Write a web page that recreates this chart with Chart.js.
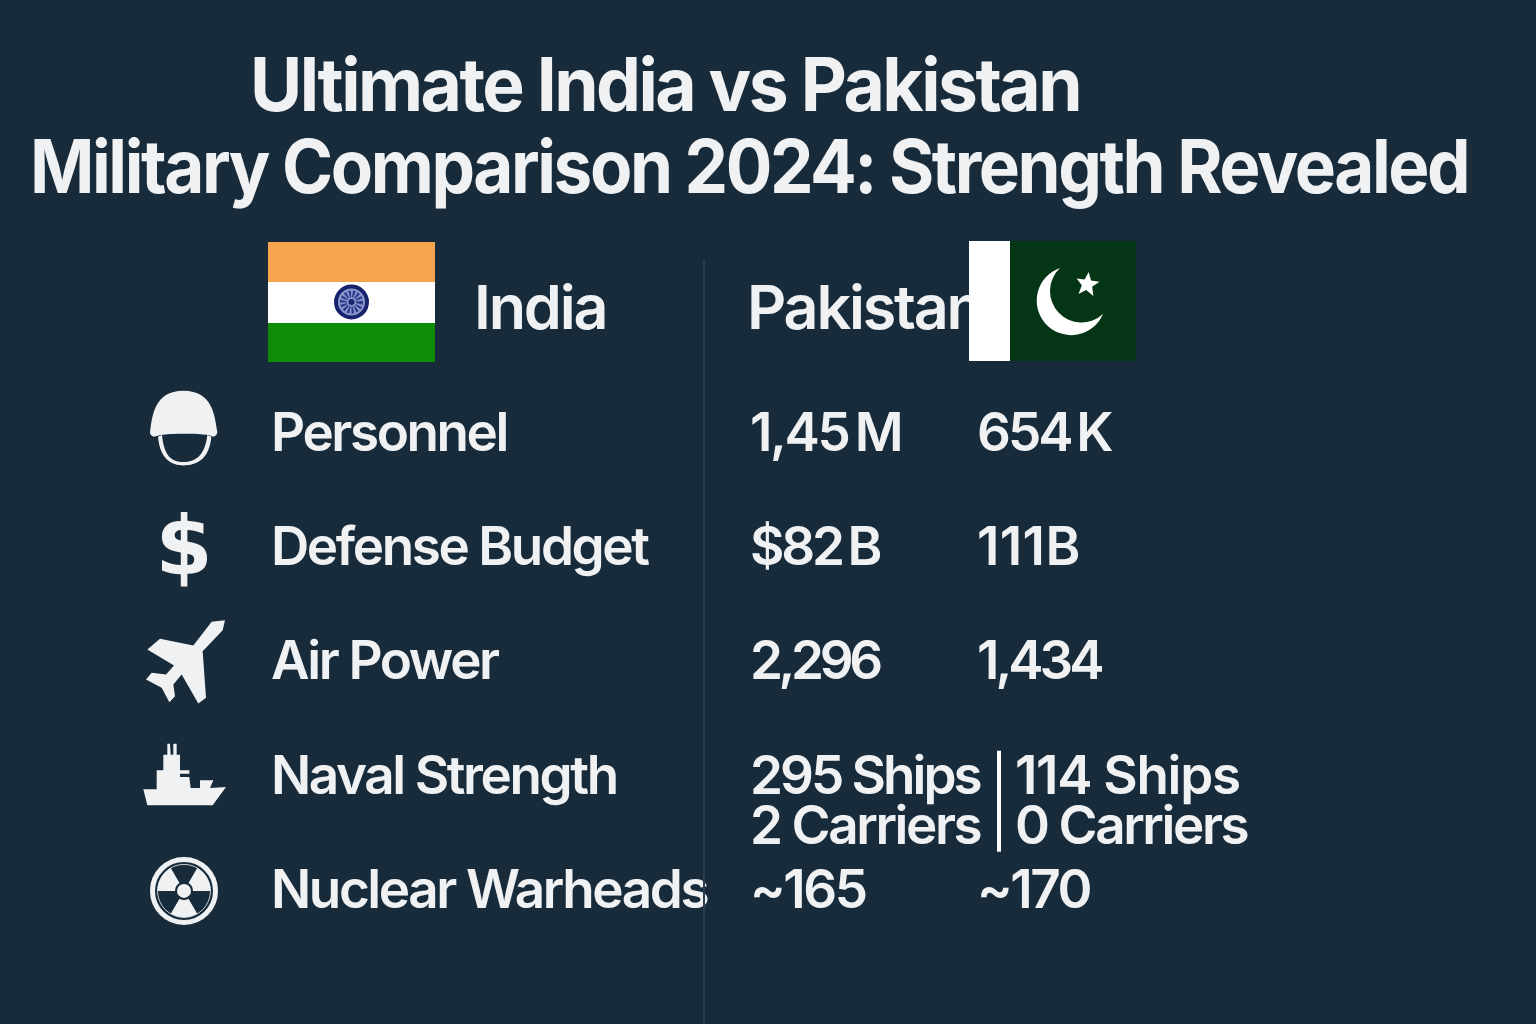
<!DOCTYPE html>
<html>
<head>
<meta charset="utf-8">
<title>Ultimate India vs Pakistan Military Comparison 2024</title>
<script src="https://cdn.jsdelivr.net/npm/chart.js@4/dist/chart.umd.min.js"></script>
<style>
  html, body { margin: 0; background: #182b3a; }
  #page { position: relative; width: 1536px; height: 1024px; overflow: hidden; background: #182b3a;
          font-family: Inter, sans-serif; color: #f0f1f3; }
  #chartBox { position: absolute; inset: 0; }
  .t { position: absolute; white-space: nowrap; line-height: 1; transform-origin: left center; }
  .title { font-size: 74px; font-weight: 700; letter-spacing: -2.6px; }
  .head { font-size: 61px; font-weight: 600; letter-spacing: -2.2px; }
  #divider { position: absolute; left: 703px; top: 260px; width: 2px; height: 764px; background: #2c3e4d; }
  svg.flag { position: absolute; }
</style>
</head>
<body>
<div id="page">
  <div id="chartBox"><canvas id="cmp"></canvas></div>
  <div id="divider"></div>
  <div class="t title" style="left:250px;top:47px;transform:scaleX(.9635)">Ultimate India vs Pakistan</div>
  <div class="t title" style="left:30px;top:129px;transform:scaleX(.935)">Military Comparison 2024: Strength Revealed</div>
  <div class="t head" style="left:474px;top:277px">India</div>
  <div class="t head" style="left:747px;top:277px">Pakistan</div>

  <svg class="flag" style="left:268px;top:242px" width="167" height="120" viewBox="0 0 167 120">
    <rect width="167" height="40" fill="#f4a54d"/>
    <rect y="40" width="167" height="41" fill="#ffffff"/>
    <rect y="81" width="167" height="39" fill="#0f8c06"/>
    <circle cx="83.5" cy="60" r="15.5" fill="#8d97c9" stroke="#17236f" stroke-width="4"/>
    <circle cx="83.5" cy="60" r="8" fill="none" stroke="#2c3b8f" stroke-width="7" stroke-dasharray="2 1.5"/>
    <circle cx="83.5" cy="60" r="3" fill="#17236f"/>
  </svg>
  <svg class="flag" style="left:969px;top:241px" width="167" height="120" viewBox="969 241 167 120">
    <rect x="969" y="241" width="41" height="120" fill="#ffffff"/>
    <rect x="1010" y="241" width="126" height="120" fill="#043515"/>
    <path d="M1060 268 A34.5 34.5 0 1 0 1103 314 A31 31 0 0 1 1060 268Z" fill="#ffffff"/>
    <path d="M1087 272 L1090.5 280 L1099 280 L1092.5 286 L1095 295 L1087 290 L1080 295 L1082 286 L1076 280 L1084 280Z" fill="#ffffff" transform="rotate(8 1087 284)"/>
  </svg>
</div>

<script>
const metrics = ['Personnel', 'Defense Budget', 'Air Power', 'Naval Strength', 'Nuclear Warheads'];
const columns = ['India', 'Pakistan'];
const indiaValues = [['1,45\u2009M'], ['$82\u2009B'], ['2,296'], ['295 Ships', '2 Carriers'], ['~165']];
const pakistanValues = [['654\u2009K'], ['111B'], ['1,434'], ['114 Ships', '0 Carriers'], ['~170']];

const TEXT = '#f0f1f3';
const FONT = '600 53px Inter';
const TRACK = '-2.4px';
// the reference digits run narrower or wider than Inter in places
const CELL_TRACK = { '2,296': '-4.4px', '1,434': '-4px', '111B': '0.4px', '114 Ships': '-1.3px',
                     '$82\u2009B': '-3.2px', '654\u2009K': '-3px', '295 Ships': '-3px' };
const LINE_GAP = 50, SPLIT_SHIFT = 38;
const ICON_X = 184, ICON_LIFT = 3;

// icon outlines, traced at 3x around (ox, oy) = icon column x and row y
const icons = [
  { ox: 162, oy: 156, paths: [
    'M60 158 C66 110 72 32 160 32 C250 32 254 110 262 155 Q262 166 250 170 L236 165 C200 160 125 160 92 165 L72 170 Q60 166 60 158Z',
    'M84 170 C90 238 125 256 160 256 C200 256 238 238 244 170 L232 165 C225 228 195 246 160 246 C125 246 102 228 96 165Z' ] },
  { glyph: '$' },
  { ox: 162, oy: 843, paths: [
    'M285 722 L278 752 L218 815 L228 955 L205 972 L155 885 L130 915 L135 950 L118 968 L95 925 L48 900 L65 880 L108 885 L132 858 L52 810 L90 778 L190 798 L245 727Z' ] },
  { ox: 162, oy: 138, paths: [
    'M40 182 L80 182 L80 125 L100 125 L100 78 L112 78 L112 45 L120 45 L122 78 L130 78 L130 45 L140 45 L140 78 L150 78 L150 125 L178 125 L178 135 L150 135 L150 145 L178 145 L182 178 L210 178 L210 155 L250 155 L240 178 L288 175 L248 230 L52 230Z' ] },
  { radiation: true }
];

function drawIcon(ctx, icon, x, y) {
  ctx.save();
  ctx.letterSpacing = '0px';
  ctx.fillStyle = ctx.strokeStyle = TEXT;
  if (icon.glyph) {
    ctx.font = '700 82px "DejaVu Sans"';
    ctx.textAlign = 'center';
    ctx.textBaseline = 'middle';
    ctx.fillText(icon.glyph, x, y + 6);
  } else if (icon.radiation) {
    ctx.translate(x, y + 2);
    ctx.lineWidth = 5;
    ctx.beginPath(); ctx.arc(0, 0, 31.5, 0, Math.PI * 2); ctx.stroke();
    ctx.lineWidth = 0.8;
    ctx.beginPath(); ctx.arc(0, 0, 26.5, 0, Math.PI * 2); ctx.stroke();
    [[180, 240], [300, 360], [60, 120]].forEach(([a, b]) => {
      const s = a * Math.PI / 180, e = b * Math.PI / 180;
      ctx.beginPath(); ctx.arc(0, 0, 26.5, s, e); ctx.arc(0, 0, 9, e, s, true); ctx.closePath(); ctx.fill();
    });
    ctx.beginPath(); ctx.arc(0, 0, 7, 0, Math.PI * 2); ctx.fill();
  } else {
    ctx.translate(x, y);
    ctx.scale(1 / 3, 1 / 3);
    ctx.translate(-icon.ox, -icon.oy);
    icon.paths.forEach(p => ctx.fill(new Path2D(p)));
  }
  ctx.restore();
}

const tablePlugin = {
  id: 'table',
  beforeDraw(chart) { chart.ctx.letterSpacing = TRACK; },
  afterDatasetsDraw(chart) {
    const { ctx, scales } = chart;
    metrics.forEach((m, i) => drawIcon(ctx, icons[i], ICON_X, scales.y.getPixelForValue(i) - ICON_LIFT));
    ctx.save();
    ctx.font = FONT;
    ctx.fillStyle = TEXT;
    ctx.textBaseline = 'middle';
    chart.data.datasets.forEach((ds, d) => {
      chart.getDatasetMeta(d).data.forEach((pt, i) => {
        const lines = ds.cellText[i];
        const shift = d === 1 && lines.length > 1 ? SPLIT_SHIFT : 0;
        lines.forEach((line, n) => {
          ctx.letterSpacing = CELL_TRACK[line] || TRACK;
          ctx.fillText(line, pt.x + shift, pt.y + n * LINE_GAP);
        });
      });
    });
    // rule between the two naval cells
    const nav = chart.getDatasetMeta(1).data[3];
    ctx.fillStyle = '#ffffff';
    ctx.fillRect(nav.x + 20, nav.y - 27, 4, 101);
    ctx.restore();
  }
};

const toPoints = col => metrics.map(m => ({ x: col, y: m }));

new Chart(document.getElementById('cmp'), {
  type: 'scatter',
  data: {
    datasets: [
      { label: 'India', data: toPoints('India'), cellText: indiaValues, pointRadius: 0, clip: false },
      { label: 'Pakistan', data: toPoints('Pakistan'), cellText: pakistanValues, pointRadius: 0, clip: false }
    ]
  },
  options: {
    responsive: true, maintainAspectRatio: false, animation: false,
    layout: { padding: { left: 271, right: 559, top: 378, bottom: 75 } },
    plugins: { legend: { display: false }, tooltip: { enabled: false } },
    scales: {
      x: { type: 'category', labels: columns, offset: false, display: false },
      y: {
        type: 'category', labels: metrics, offset: true,
        afterFit: s => { s.width = 479; },
        grid: { display: false, drawTicks: false }, border: { display: false },
        ticks: { crossAlign: 'far', color: TEXT, padding: 0, autoSkip: false,
                 font: { family: 'Inter', size: 53, weight: '600' } }
      }
    }
  },
  plugins: [tablePlugin]
});
</script>
</body>
</html>
